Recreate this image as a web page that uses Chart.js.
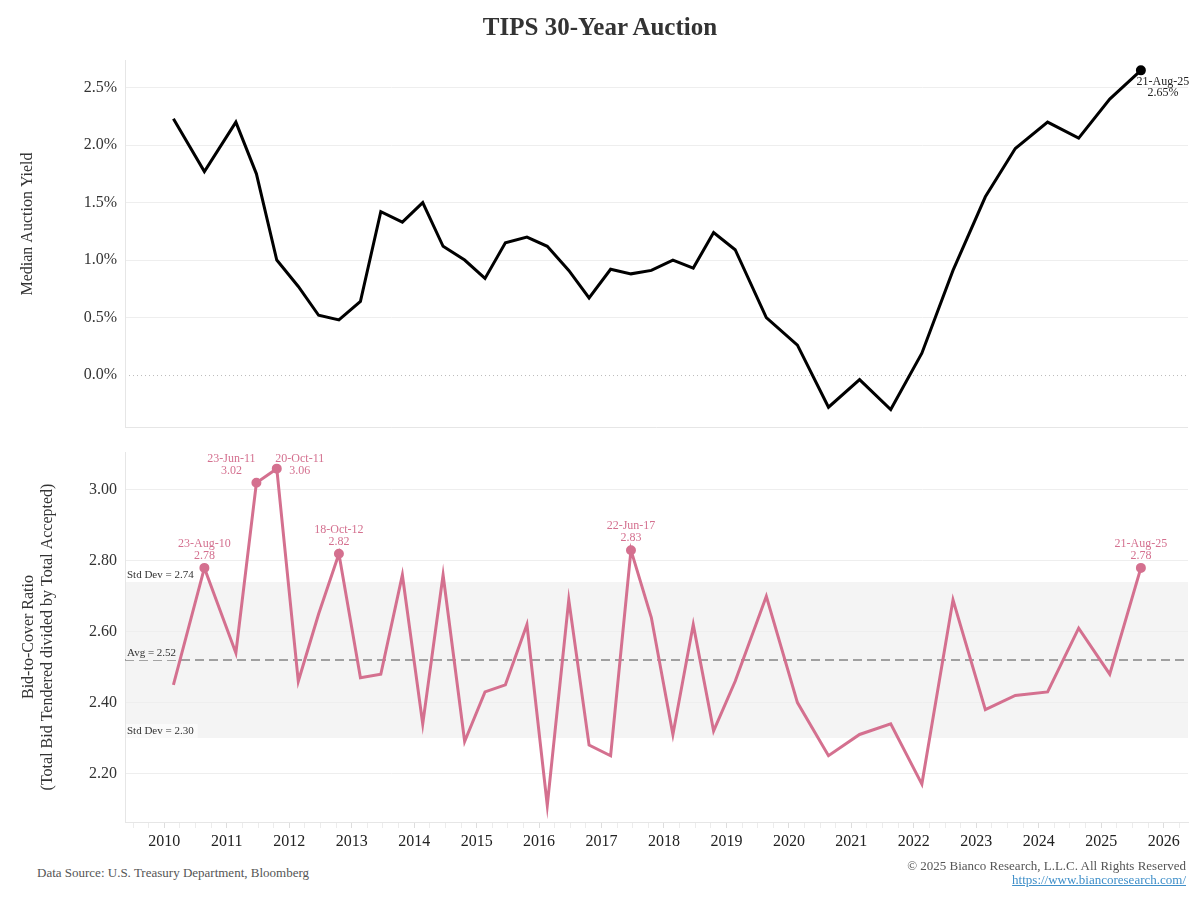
<!DOCTYPE html>
<html>
<head>
<meta charset="utf-8">
<script src="https://cdn.jsdelivr.net/npm/chart.js@4"></script>
<style>
  body { margin: 0; background: #fff; }
  #wrap { position: relative; width: 1200px; height: 900px; font-family: 'Liberation Serif', serif; color: #333; }
  #title { position: absolute; top: 13px; left: 0; width: 1200px; text-align: center; font-size: 25px; font-weight: bold; color: #333; }
  #c1 { position: absolute; left: 0; top: 0; }
  #c2 { position: absolute; left: 0; top: 440px; }
  .foot { position: absolute; font-size: 13px; color: #555; }
  #src { left: 37px; top: 865px; }
  #copy { right: 14px; top: 859px; text-align: right; line-height: 14px; }
  #copy a { color: #3f8fc9; }
</style>
</head>
<body>
<div id="wrap">
  <canvas id="c1" width="1200" height="440"></canvas>
  <canvas id="c2" width="1200" height="420"></canvas>
  <div id="title">TIPS 30-Year Auction</div>
  <div class="foot" id="src">Data Source: U.S. Treasury Department, Bloomberg</div>
  <div class="foot" id="copy">© 2025 Bianco Research, L.L.C. All Rights Reserved<br><a href="#">https://www.biancoresearch.com/</a></div>
</div>
<script>
// auction dates
const auctionDates = [
  '2010-02-23', '2010-08-23',
  '2011-02-23', '2011-06-23', '2011-10-20',
  '2012-02-23', '2012-06-21', '2012-10-18',
  '2013-02-21', '2013-06-20', '2013-10-24',
  '2014-02-20', '2014-06-19', '2014-10-23',
  '2015-02-19', '2015-06-18', '2015-10-22',
  '2016-02-18', '2016-06-23', '2016-10-20',
  '2017-02-23', '2017-06-22', '2017-10-19',
  '2018-02-22', '2018-06-21', '2018-10-18',
  '2019-02-21', '2019-08-22',
  '2020-02-20', '2020-08-20',
  '2021-02-18', '2021-08-19',
  '2022-02-17', '2022-08-18',
  '2023-02-23', '2023-08-17',
  '2024-02-22', '2024-08-22',
  '2025-02-20', '2025-08-21'
];

// median auction yield (%)
const yieldValues = [
  2.23, 1.77,
  2.20, 1.75, 1.00,
  0.77, 0.52, 0.48,
  0.64, 1.42, 1.33,
  1.50, 1.12, 1.00,
  0.84, 1.15, 1.20,
  1.12, 0.91, 0.67,
  0.92, 0.88, 0.91,
  1.00, 0.93, 1.24,
  1.09, 0.50,
  0.26, -0.28,
  -0.04, -0.30,
  0.19, 0.91,
  1.55, 1.97,
  2.20, 2.06,
  2.40, 2.65
];

// bid-to-cover ratio
const bidCoverValues = [
  2.45, 2.78,
  2.54, 3.02, 3.06,
  2.46, 2.65, 2.82,
  2.47, 2.48, 2.76,
  2.34, 2.76, 2.29,
  2.43, 2.45, 2.62,
  2.11, 2.69, 2.28,
  2.25, 2.83, 2.64,
  2.31, 2.62, 2.32,
  2.46, 2.70,
  2.40, 2.25,
  2.31, 2.34,
  2.17, 2.69,
  2.38, 2.42,
  2.43, 2.61,
  2.48, 2.78
];

const bidNotes = ['2010-08-23', '2011-06-23', '2011-10-20', '2012-10-18', '2017-06-22', '2025-08-21'];
const yieldNotes = ['2025-08-21'];

const bidAvg = 2.52;
const bidStdHigh = 2.74;
const bidStdLow = 2.30;

const yearLabels = ['2010', '2011', '2012', '2013', '2014', '2015', '2016', '2017', '2018',
  '2019', '2020', '2021', '2022', '2023', '2024', '2025', '2026'];
const yieldTicks = [0, 0.5, 1.0, 1.5, 2.0, 2.5];
const bidTicks = [2.2, 2.4, 2.6, 2.8, 3.0];

const FONT = "'Liberation Serif', serif";
const PINK = '#d4708f';
const X_MIN = 2009.37, X_MAX = 2026.39;
const MONTHS = ['Jan','Feb','Mar','Apr','May','Jun','Jul','Aug','Sep','Oct','Nov','Dec'];

function toYear(s) {
  const d = new Date(s + 'T00:00:00Z');
  const y = d.getUTCFullYear();
  const a = Date.UTC(y, 0, 1), b = Date.UTC(y + 1, 0, 1);
  return y + (d.getTime() - a) / (b - a);
}
function shortDate(s) {
  const p = s.split('-');
  return Number(p[2]) + '-' + MONTHS[Number(p[1]) - 1] + '-' + p[0].slice(2);
}

const yieldPoints = auctionDates.map((d, i) => ({ x: toYear(d), y: yieldValues[i] }));
const bidPoints = auctionDates.map((d, i) => ({ x: toYear(d), y: bidCoverValues[i] }));

// quarter tick marks, labels only on whole years
const xTicks = [];
yearLabels.forEach(l => {
  const y = Number(l);
  xTicks.push(y);
  if (y < 2026) xTicks.push(y + 0.25, y + 0.5, y + 0.75);
});
xTicks.unshift(2009.5, 2009.75);
xTicks.push(2026.25);

const frameColor = '#e6e6e6';
const gridColor = '#eeeeee';

// let layout.padding alone decide the plot edges
function noScalePadding(s) {
  s.paddingTop = 0; s.paddingBottom = 0; s.paddingLeft = 0; s.paddingRight = 0;
}

// frame + top chart's zero line + axis title
const topDecor = {
  id: 'topDecor',
  beforeDatasetsDraw(chart) {
    const { ctx, chartArea: a, scales } = chart;
    ctx.save();
    const y0 = scales.y.getPixelForValue(0);
    ctx.strokeStyle = '#bbbbbb';
    ctx.lineWidth = 1;
    ctx.setLineDash([1, 3]);
    ctx.beginPath();
    ctx.moveTo(a.left, y0 + 0.5);
    ctx.lineTo(a.right, y0 + 0.5);
    ctx.stroke();
    ctx.setLineDash([]);
    ctx.strokeStyle = frameColor;
    ctx.beginPath();
    ctx.moveTo(a.left + 0.5, a.top);
    ctx.lineTo(a.left + 0.5, a.bottom + 0.5);
    ctx.lineTo(a.right, a.bottom + 0.5);
    ctx.stroke();
    ctx.restore();
  },
  afterDraw(chart) {
    const { ctx, scales } = chart;
    ctx.save();
    ctx.fillStyle = '#333';
    ctx.font = '16px ' + FONT;
    ctx.textAlign = 'center';
    ctx.textBaseline = 'middle';
    ctx.translate(28, 224);
    ctx.rotate(-Math.PI / 2);
    ctx.fillText('Median Auction Yield', 0, 0);
    ctx.restore();

    // latest point label
    ctx.save();
    ctx.fillStyle = '#222';
    ctx.font = '12px ' + FONT;
    ctx.textAlign = 'center';
    ctx.textBaseline = 'middle';
    yieldNotes.forEach(d => {
      const i = auctionDates.indexOf(d);
      const px = scales.x.getPixelForValue(toYear(d));
      const py = scales.y.getPixelForValue(yieldValues[i]);
      ctx.fillText(shortDate(d), px + 22, py + 11);
      ctx.fillText(yieldValues[i].toFixed(2) + '%', px + 22, py + 22);
    });
    ctx.restore();
  }
};

const bottomDecor = {
  id: 'bottomDecor',
  beforeDraw(chart) {
    const { ctx, chartArea: a, scales } = chart;
    const yHi = scales.y.getPixelForValue(bidStdHigh);
    const yLo = scales.y.getPixelForValue(bidStdLow);
    ctx.save();
    ctx.fillStyle = '#f4f4f4';
    ctx.fillRect(a.left, yHi, a.right - a.left, yLo - yHi);
    ctx.restore();
  },
  beforeDatasetsDraw(chart) {
    const { ctx, chartArea: a, scales } = chart;
    const yAvg = scales.y.getPixelForValue(bidAvg);
    const yHi = scales.y.getPixelForValue(bidStdHigh);
    const yLo = scales.y.getPixelForValue(bidStdLow);
    ctx.save();
    ctx.strokeStyle = '#a0a0a0';
    ctx.lineWidth = 2;
    ctx.setLineDash([9, 5]);
    ctx.beginPath();
    ctx.moveTo(a.left, yAvg);
    ctx.lineTo(a.right, yAvg);
    ctx.stroke();
    ctx.setLineDash([]);

    ctx.font = '11px ' + FONT;
    ctx.textBaseline = 'middle';
    ctx.textAlign = 'left';
    const tags = [
      ['Std Dev = ' + bidStdHigh.toFixed(2), yHi - 7, '#ffffff'],
      ['Avg = ' + bidAvg.toFixed(2), yAvg - 7, '#f4f4f4'],
      ['Std Dev = ' + bidStdLow.toFixed(2), yLo - 7, '#fafafa']
    ];
    tags.forEach(([t, y, bg]) => {
      const w = ctx.measureText(t).width;
      ctx.fillStyle = bg;
      ctx.fillRect(a.left + 1, y - 7, w + 5, 14);
      ctx.fillStyle = '#333';
      ctx.fillText(t, a.left + 2, y);
    });
    ctx.restore();
  },
  afterDraw(chart) {
    const { ctx, scales } = chart;
    ctx.save();
    ctx.fillStyle = '#333';
    ctx.font = '16px ' + FONT;
    ctx.textAlign = 'center';
    ctx.textBaseline = 'middle';
    ctx.translate(0, 197);
    ctx.rotate(-Math.PI / 2);
    ctx.fillText('Bid-to-Cover Ratio', 0, 29);
    ctx.fillText('(Total Bid Tendered divided by Total Accepted)', 0, 48);
    ctx.restore();

    ctx.save();
    ctx.fillStyle = PINK;
    ctx.font = '12px ' + FONT;
    ctx.textAlign = 'center';
    ctx.textBaseline = 'middle';
    bidNotes.forEach(d => {
      const i = auctionDates.indexOf(d);
      const px = scales.x.getPixelForValue(toYear(d));
      const py = scales.y.getPixelForValue(bidCoverValues[i]);
      let dx = 0, dy = -12;
      if (d === '2011-06-23') { dx = -25; dy = -12; }
      if (d === '2011-10-20') { dx = 23; dy = 2; }
      ctx.fillText(shortDate(d), px + dx, py + dy - 12);
      ctx.fillText(bidCoverValues[i].toFixed(2), px + dx, py + dy);
    });
    ctx.restore();
  }
};

const yAxisBase = (min, max, ticks, fmt) => ({
  min: min,
  max: max,
  afterFit: s => { s.width = 125; noScalePadding(s); },
  afterBuildTicks: s => { s.ticks = ticks.map(v => ({ value: v })); },
  grid: { color: gridColor, drawTicks: false },
  border: { display: true, color: frameColor },
  ticks: { padding: 8, color: '#333', font: { family: FONT, size: 16 }, callback: fmt }
});

new Chart(document.getElementById('c1'), {
  type: 'line',
  data: {
    datasets: [{
      data: yieldPoints,
      borderColor: '#000',
      backgroundColor: '#000',
      borderWidth: 3,
      tension: 0,
      pointRadius: ctx => yieldNotes.includes(auctionDates[ctx.dataIndex]) ? 3.5 : 0,
      pointHoverRadius: 0
    }]
  },
  options: {
    responsive: false,
    animation: false,
    layout: { padding: { top: 60, bottom: 13, right: 12, left: 0 } },
    plugins: { legend: { display: false }, tooltip: { enabled: false } },
    scales: {
      x: { type: 'linear', min: X_MIN, max: X_MAX, display: false },
      y: Object.assign(yAxisBase(-0.452, 2.74, yieldTicks, v => v.toFixed(1) + '%'), {
        grid: { color: c => (c.tick && c.tick.value === 0) ? 'rgba(0,0,0,0)' : gridColor, drawTicks: false }
      })
    }
  },
  plugins: [topDecor]
});

new Chart(document.getElementById('c2'), {
  type: 'line',
  data: {
    datasets: [{
      data: bidPoints,
      borderColor: PINK,
      backgroundColor: PINK,
      borderWidth: 3,
      tension: 0,
      pointRadius: ctx => bidNotes.includes(auctionDates[ctx.dataIndex]) ? 3.5 : 0,
      pointHoverRadius: 0
    }]
  },
  options: {
    responsive: false,
    animation: false,
    layout: { padding: { top: 12, bottom: 0, right: 12, left: 0 } },
    plugins: { legend: { display: false }, tooltip: { enabled: false } },
    scales: {
      x: {
        type: 'linear',
        min: X_MIN,
        max: X_MAX,
        afterFit: s => { s.height = 38; noScalePadding(s); },
        afterBuildTicks: s => { s.ticks = xTicks.map(v => ({ value: v })); },
        grid: {
          drawOnChartArea: false,
          drawTicks: true,
          tickLength: 6,
          tickColor: c => (c.tick && Number.isInteger(c.tick.value)) ? '#dddddd' : '#ececec'
        },
        border: { display: true, color: frameColor },
        ticks: {
          padding: 4,
          autoSkip: false,
          maxRotation: 0,
          color: '#222',
          font: { family: FONT, size: 16 },
          callback: v => {
            const i = yearLabels.indexOf(String(v));
            return i >= 0 ? yearLabels[i] : '';
          }
        }
      },
      y: yAxisBase(2.063, 3.107, bidTicks, v => v.toFixed(2))
    }
  },
  plugins: [bottomDecor]
});
</script>
</body>
</html>
